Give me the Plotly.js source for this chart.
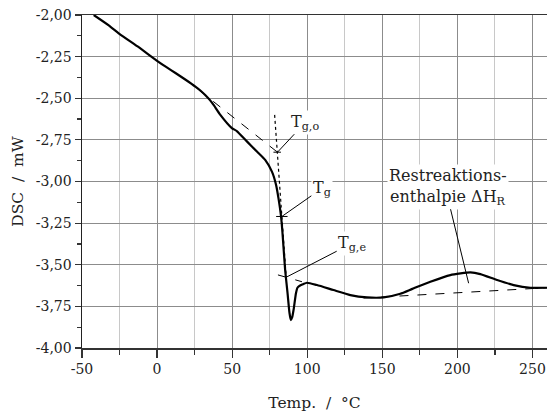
<!DOCTYPE html>
<html><head><meta charset="utf-8">
<script src="https://cdn.plot.ly/plotly-3.0.1.min.js"></script>
<style>html,body{margin:0;padding:0;background:#fff}#chart{width:547px;height:417px}</style>
</head><body><div id="chart"></div>
<script>
// DSC curve (temperature in °C, heat flow in mW)
const tempC = [-42.2, -32.2, -25.1, -12, 0, 6, 12.5, 19, 25.5, 29, 32.2, 35.5, 38, 42, 49.8, 53.1, 59.8, 66.5, 72, 76.5, 79.3, 80.9, 82.5, 83.5, 85.3, 86.9, 88.2, 89.1, 90.0, 90.9, 92.5, 93.5, 95, 97, 99.8, 106.5, 117.5, 128.7, 139.8, 150.9, 162, 170, 182, 195.3, 208.7, 215.3, 226.5, 237.5, 248.7, 259.7];
const dscMW = [-2.000, -2.062, -2.113, -2.195, -2.275, -2.312, -2.350, -2.389, -2.430, -2.455, -2.482, -2.514, -2.545, -2.598, -2.679, -2.697, -2.759, -2.820, -2.870, -2.941, -3.022, -3.103, -3.204, -3.305, -3.532, -3.671, -3.790, -3.832, -3.815, -3.772, -3.671, -3.638, -3.626, -3.618, -3.608, -3.622, -3.652, -3.682, -3.696, -3.696, -3.674, -3.645, -3.602, -3.562, -3.546, -3.556, -3.592, -3.622, -3.638, -3.638];

// construction lines
const preTangentT = [28, 83];
const preTangentV = [-2.452, -2.844];
const steepTangentT = [78.3, 86.2];
const steepTangentV = [-2.600, -3.600];
const postTangentT = [80.5, 96.5];
const postTangentV = [-3.561, -3.602];
const baselineT = [137.5, 259.7];
const baselineV = [-3.700, -3.638];
const markTgoT = [77.5, 82.5];
const markTgoV = [-2.824, -2.824];
const markTgT = [79.3, 86.9];
const markTgV = [-3.210, -3.210];

// ticks
const xTickVals = [-50, 0, 50, 100, 150, 200, 250];
const xTickText = ['-50', '0', '50', '100', '150', '200', '250'];
const yTickVals = [-4.00, -3.75, -3.50, -3.25, -3.00, -2.75, -2.50, -2.25, -2.00];
const yTickText = ['-4,00', '-3,75', '-3,50', '-3,25', '-3,00', '-2,75', '-2,50', '-2,25', '-2,00'];

// labels
const labelTgo = 'T<sub>g,o</sub>';
const labelTg = 'T<sub>g</sub>';
const labelTge = 'T<sub>g,e</sub>';
const labelRest1 = 'Restreaktions-';
const labelRest2 = 'enthalpie ΔH<sub>R</sub>';
const xTitle = 'Temp.\u00a0\u00a0/\u00a0\u00a0°C';
const yTitle = 'DSC\u00a0\u00a0/\u00a0\u00a0mW';

const serif = 'DejaVu Serif';
const ink = '#222';

function thin(x, y, dash, w) {
  return {x: x, y: y, type: 'scatter', mode: 'lines', hoverinfo: 'skip',
          line: {color: '#000', width: w || 1, dash: dash || 'solid'}, showlegend: false};
}

const traces = [
  thin(preTangentT, preTangentV, 'dash', 1),
  thin(steepTangentT, steepTangentV, 'dot', 1.2),
  thin(postTangentT, postTangentV, 'dash', 1),
  thin(baselineT, baselineV, 'dash', 1),
  thin(markTgoT, markTgoV, 'solid', 1),
  thin(markTgT, markTgV, 'solid', 1),
  {x: tempC, y: dscMW, type: 'scatter', mode: 'lines', showlegend: false,
   line: {color: '#000', width: 2.2, shape: 'spline', smoothing: 0.5}}
];

const annFont = {family: serif, size: 16, color: ink};
function ann(text, x, y, ax, ay) {
  return {text: text, x: x, y: y, xref: 'x', yref: 'y', ax: ax, ay: ay,
          showarrow: true, arrowhead: 0, arrowwidth: 1, arrowcolor: '#000', standoff: 0,
          bgcolor: '#fff', font: annFont, borderpad: 1};
}

const layout = {
  width: 547, height: 417,
  margin: {l: 82, r: 0, t: 15, b: 69},
  paper_bgcolor: '#fff', plot_bgcolor: '#fff',
  separators: ',.',
  font: {family: serif, size: 14, color: ink},
  xaxis: {
    range: [-50, 259.7], tickmode: 'array', tickvals: xTickVals, ticktext: xTickText,
    ticks: 'outside', ticklen: 8, tickcolor: '#333', tickwidth: 1.2,
    showgrid: true, gridcolor: '#8c8c8c', gridwidth: 1, zeroline: false,
    showline: true, linecolor: '#333', linewidth: 1.5, mirror: true,
    minor: {dtick: 25, tick0: 0, ticks: 'outside', ticklen: 5, tickcolor: '#333', showgrid: true, gridcolor: '#c8c8c8', gridwidth: 1},
    tickfont: {family: serif, size: 14, color: ink},
    title: {text: xTitle, font: {family: serif, size: 15.5, color: ink}, standoff: 21}
  },
  yaxis: {
    range: [-4, -2], tickmode: 'array', tickvals: yTickVals, ticktext: yTickText,
    ticks: 'outside', ticklen: 6, tickcolor: '#333', tickwidth: 1.2,
    showgrid: true, gridcolor: '#8c8c8c', gridwidth: 1, zeroline: false,
    showline: true, linecolor: '#222', linewidth: 1.5,
    minor: {dtick: 0.125, tick0: -4, ticks: 'outside', ticklen: 4, tickcolor: '#333', showgrid: false},
    tickfont: {family: serif, size: 14, color: ink},
    title: {text: yTitle, font: {family: serif, size: 15.5, color: ink}, standoff: 8}
  },
  annotations: [
    ann(labelTgo, 80.2, -2.824, 28, -30),
    ann(labelTg, 83.1, -3.210, 40, -28),
    ann(labelTge, 86, -3.575, 66, -34),
    {text: labelRest1, x: (447.5 - 82) / 465, y: 1 - (175 - 15) / 333, xref: 'paper', yref: 'paper',
     xanchor: 'center', yanchor: 'middle', showarrow: false, font: annFont, bgcolor: '#fff', borderpad: 1},
    ann(labelRest2, 207.5, -3.611, -21, -86)
  ]
};

Plotly.newPlot('chart', traces, layout, {displayModeBar: false, staticPlot: true});
</script>
</body></html>
